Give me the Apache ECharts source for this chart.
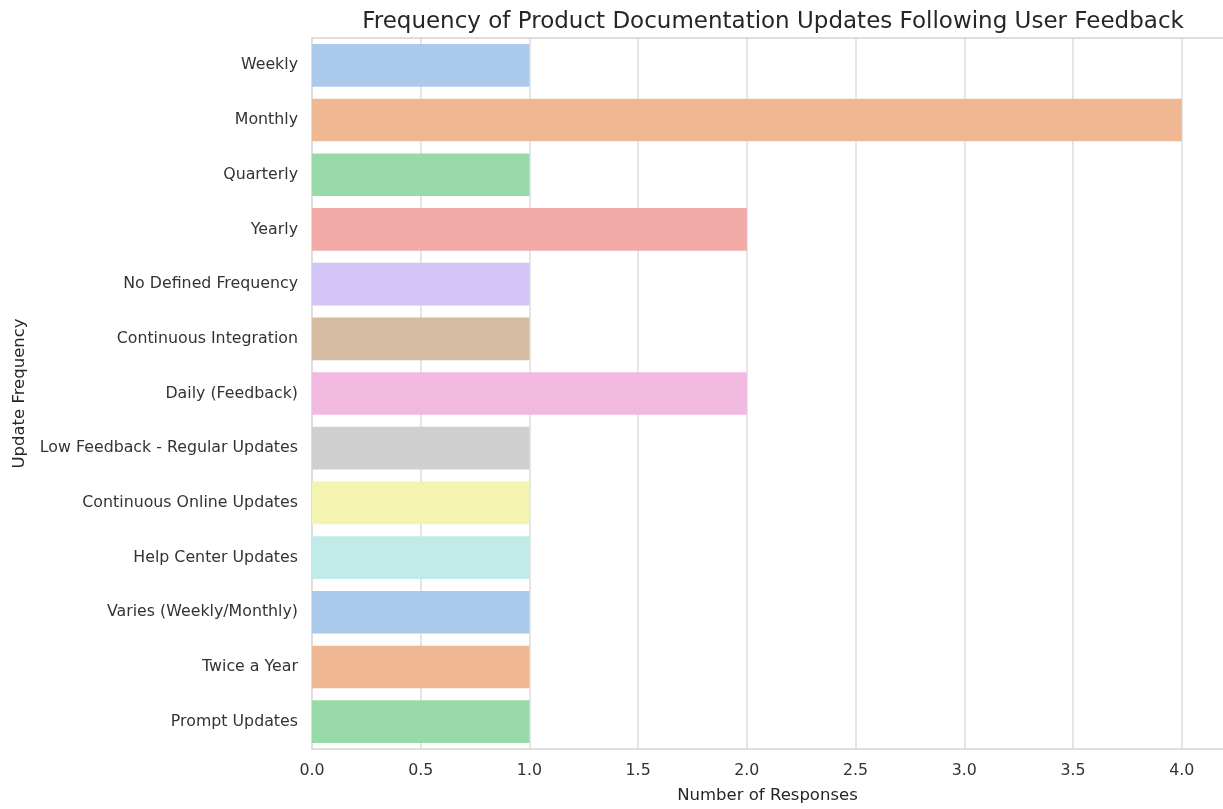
<!DOCTYPE html>
<html>
<head>
<meta charset="utf-8">
<script src="https://cdn.jsdelivr.net/npm/echarts@6/dist/echarts.min.js"></script>
<style>html,body{margin:0;padding:0;background:#fff;}#c{width:1223px;height:809px;}</style>
</head>
<body>
<div id="c"></div>
<script>
const categories = ["Weekly","Monthly","Quarterly","Yearly","No Defined Frequency","Continuous Integration","Daily (Feedback)","Low Feedback - Regular Updates","Continuous Online Updates","Help Center Updates","Varies (Weekly/Monthly)","Twice a Year","Prompt Updates"];
const counts = [1,4,1,2,1,1,2,1,1,1,1,1,1];
const xTicks = [0,0.5,1,1.5,2,2.5,3,3.5,4];
const palette = ["#abc9ea","#efb792","#98daa7","#f2aaa7","#d3c4f6","#d6bba3","#f1b9e0","#cfcfcf","#f4f3af","#c0ebe9"];

const font = "DejaVu Sans";
const spine = {show:true,lineStyle:{color:'#d4d4d4',width:1.5}};
const chart = echarts.init(document.getElementById('c'), null, {renderer:'canvas'});
chart.setOption({
  animation:false,
  backgroundColor:'#ffffff',
  title:{text:"Frequency of Product Documentation Updates Following User Feedback",left:768,top:6,textAlign:'center',
    textStyle:{fontFamily:font,fontSize:23,fontWeight:'normal',color:'#262626'}},
  grid:{left:312,right:0,top:38,bottom:55,show:false},
  xAxis:[{type:'value',min:0,max:4.19,interval:0.5,position:'bottom',
    name:"Number of Responses",nameLocation:'middle',nameGap:38,
    nameTextStyle:{fontFamily:font,fontSize:16.5,color:'#262626'},
    axisLine:spine,axisTick:{show:false},
    axisLabel:{fontFamily:font,fontSize:15.8,color:'#333',margin:14,showMaxLabel:false,
      formatter:v=> xTicks.includes(v)? v.toFixed(1):''},
    splitLine:{show:true,showMinLine:false,showMaxLine:false,lineStyle:{color:'#dcdcdc',width:1.5}}},
   {type:'value',min:0,max:4.19,position:'top',axisLine:spine,axisTick:{show:false},axisLabel:{show:false},splitLine:{show:false}}],
  yAxis:{type:'category',data:categories,inverse:true,
    name:"Update Frequency",nameLocation:'middle',nameGap:284,nameRotate:90,
    nameTextStyle:{fontFamily:font,fontSize:16.5,color:'#262626'},
    axisLine:spine,axisTick:{show:false},
    axisLabel:{fontFamily:font,fontSize:15.8,color:'#333',margin:14},
    splitLine:{show:false}},
  series:[{type:'bar',barCategoryGap:'22%',xAxisIndex:0,
    data:counts.map((v,i)=>({value:v,itemStyle:{color:palette[i%palette.length]}}))}]
});
</script>
</body>
</html>
